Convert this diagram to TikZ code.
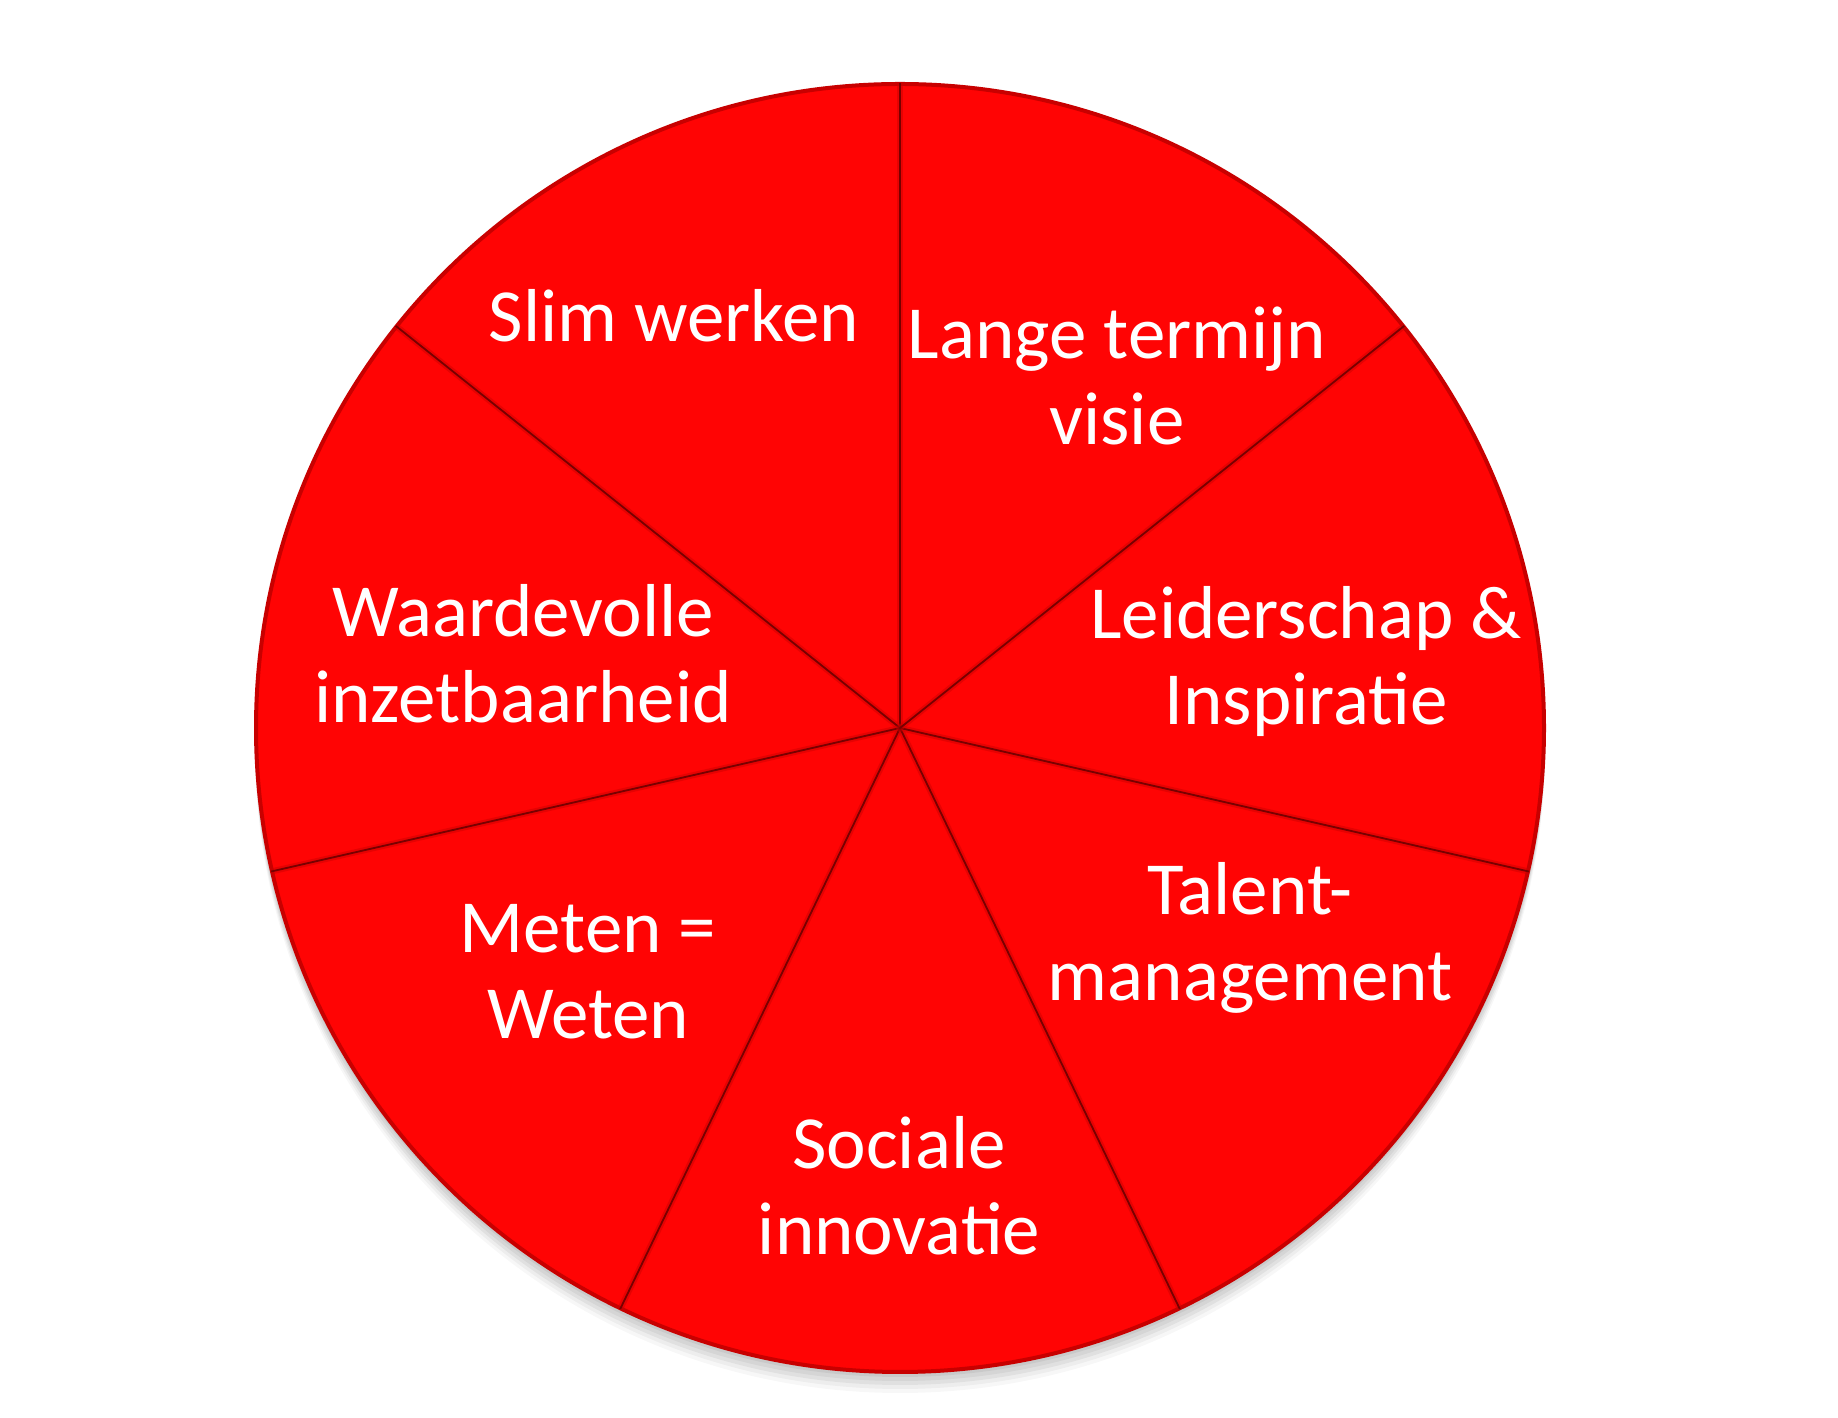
\documentclass[tikz,border=0pt]{standalone}
\usepackage{fontspec}
\setmainfont{Carlito}
\usetikzlibrary{calc}
\definecolor{slicered}{RGB}{255,4,4}
\definecolor{edgered}{RGB}{120,0,0}
\definecolor{softred}{RGB}{200,0,0}
\begin{document}
\begin{tikzpicture}[x=0.5pt,y=0.5pt,
  lbl/.style={text=white,align=center,font=\fontsize{37.5pt}{43pt}\selectfont,inner sep=0pt},
  slice/.style={fill=slicered},
  divsoft/.style={draw=softred,line width=3pt,opacity=0.45},
  divline/.style={draw=edgered,line width=0.9pt}]
\useasboundingbox (0,0) rectangle (1838,1418);
\fill[white] (0,0) rectangle (1838,1418);
\coordinate (c) at (900,690);
% shadow
\foreach \d/\o in {4/0.05,8/0.05,12/0.05,16/0.04,20/0.03}{
  \fill[black,opacity=\o] ($(c)+(0,-\d)$) circle (645);
}
% slices
\foreach \i in {0,...,6}{
  \pgfmathsetmacro{\a}{90+\i*360/7}
  \pgfmathsetmacro{\b}{\a+360/7}
  \fill[slice] (c) -- ++(\a:645) arc[start angle=\a,end angle=\b,radius=645] -- cycle;
}
% rim
\draw[softred,line width=2pt] (c) circle (644);
% dividers
\foreach \i in {0,...,6}{
  \pgfmathsetmacro{\a}{90+\i*360/7}
  \coordinate (r\i) at ($(c)+(\a:645)$);
  \draw[divsoft] (c) -- (r\i);
  \draw[divline] (c) -- (r\i);
}
\node[lbl] (slim) at (674,1102) {Slim werken};
\node[lbl] (lange) at (1117,1042) {Lange termijn\\visie};
\node[lbl] (leider) at (1306,756) {Leiderschap \&\\Inspiratie};
\node[lbl] (talent) at (1250,480) {Talent-\\management};
\node[lbl] (sociale) at (899,232) {Sociale\\innovatie};
\node[lbl] (meten) at (588,446) {Meten =\\Weten};
\node[lbl] (waarde) at (523,764) {Waardevolle\\inzetbaarheid};
\end{tikzpicture}
\end{document}
